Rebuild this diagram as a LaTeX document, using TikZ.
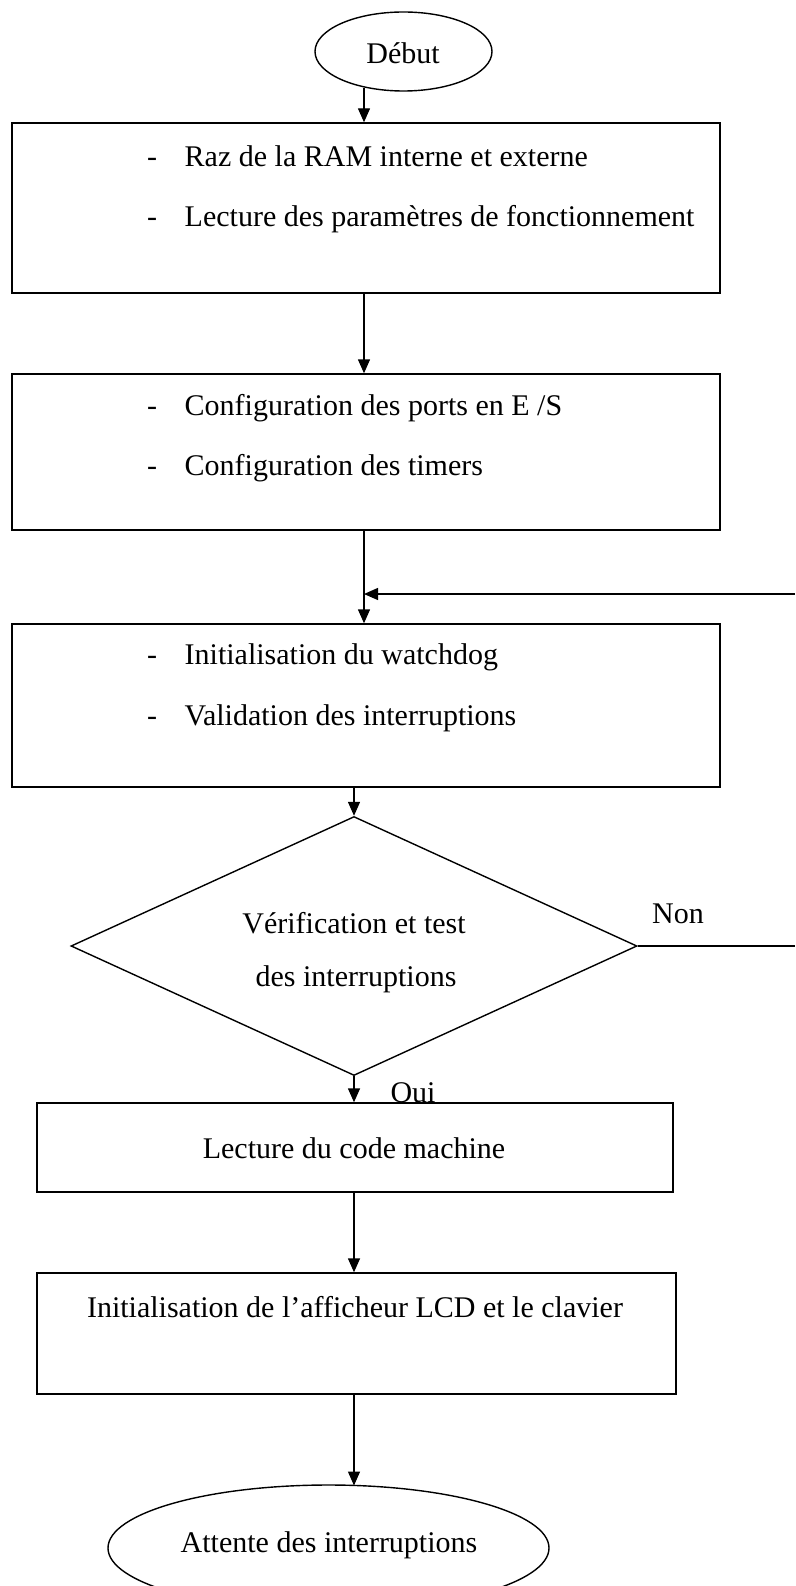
\documentclass[tikz,border=0pt]{standalone}
\usepackage{fontspec}
\setmainfont{Liberation Serif}
\usetikzlibrary{shapes.geometric,arrows.meta}
\begin{document}
\begin{tikzpicture}[x=1pt,y=-1pt, line width=1.4pt,
 box/.style={draw, rectangle, inner sep=0pt},
 ell/.style={draw, ellipse, inner sep=0pt},
 dia/.style={draw, diamond, inner sep=0pt},
 txt/.style={font=\fontsize{30}{36}\selectfont, inner sep=0pt},
 arr/.style={-{Triangle[length=14pt,width=12pt]}}]
\useasboundingbox (0,0) rectangle (795,1586);
\clip (0,0) rectangle (795,1586);
% shapes
\node[ell, minimum width=177pt, minimum height=79pt] (debut) at (403.5,51.5) {};
\node[box, minimum width=708pt, minimum height=170pt] (b1) at (366,208) {};
\node[box, minimum width=708pt, minimum height=156pt] (b2) at (366,452) {};
\node[box, minimum width=708pt, minimum height=163pt] (b3) at (366,705.5) {};
\node[dia, minimum width=566pt, minimum height=259pt] (d) at (354,946) {};
\node[box, minimum width=636pt, minimum height=89pt] (b4) at (355,1147.5) {};
\node[box, minimum width=639pt, minimum height=121pt] (b5) at (356.5,1333.5) {};
\node[ell, minimum width=441pt, minimum height=126pt] (fin) at (328.5,1548) {};
% texts
\node[txt] (tdebut) at (403,53) {Début};
\node[txt, anchor=base] (d1a) at (152,167) {-};
\node[txt, anchor=base west] (t1a) at (184,167) {Raz de la RAM interne et externe};
\node[txt, anchor=base] (d1b) at (152,227) {-};
\node[txt, anchor=base west] (t1b) at (184,227) {Lecture des paramètres de fonctionnement};
\node[txt, anchor=base] (d2a) at (152,415) {-};
\node[txt, anchor=base west] (t2a) at (184,415) {Configuration des ports en E /S};
\node[txt, anchor=base] (d2b) at (152,475) {-};
\node[txt, anchor=base west] (t2b) at (184,475) {Configuration des timers};
\node[txt, anchor=base] (d3a) at (152,664) {-};
\node[txt, anchor=base west] (t3a) at (184,664) {Initialisation du watchdog};
\node[txt, anchor=base] (d3b) at (152,725) {-};
\node[txt, anchor=base west] (t3b) at (184,725) {Validation des interruptions};
\node[txt] (tda) at (354,923) {Vérification et test};
\node[txt] (tdb) at (356,979) {des interruptions};
\node[txt] (non) at (678,914) {Non};
\node[txt] (oui) at (413,1093) {Oui};
\node[txt] (t4) at (354,1148) {Lecture du code machine};
\node[txt] (t5) at (355,1307) {Initialisation de l’afficheur LCD et le clavier};
\node[txt] (tfin) at (329,1545) {Attente des interruptions};
% connectors
\coordinate (dout) at (364,88);
\coordinate (rin) at (795,594);
\coordinate (finin) at (354,1485.5);
\draw[arr] (dout) -- (b1.north -| dout);
\draw[arr] (b1.south -| dout) -- (b2.north -| dout);
\draw[arr] (b2.south -| dout) -- (b3.north -| dout);
\draw[arr] (rin) -- (rin -| dout);
\draw[arr] (b3.south -| d.north) -- (d.north);
\draw (d.east) -- (d.east -| rin);
\draw[arr] (d.south) -- (b4.north -| d.south);
\draw[arr] (b4.south -| d.south) -- (b5.north -| d.south);
\draw[arr] (b5.south -| finin) -- (finin);
\end{tikzpicture}
\end{document}
